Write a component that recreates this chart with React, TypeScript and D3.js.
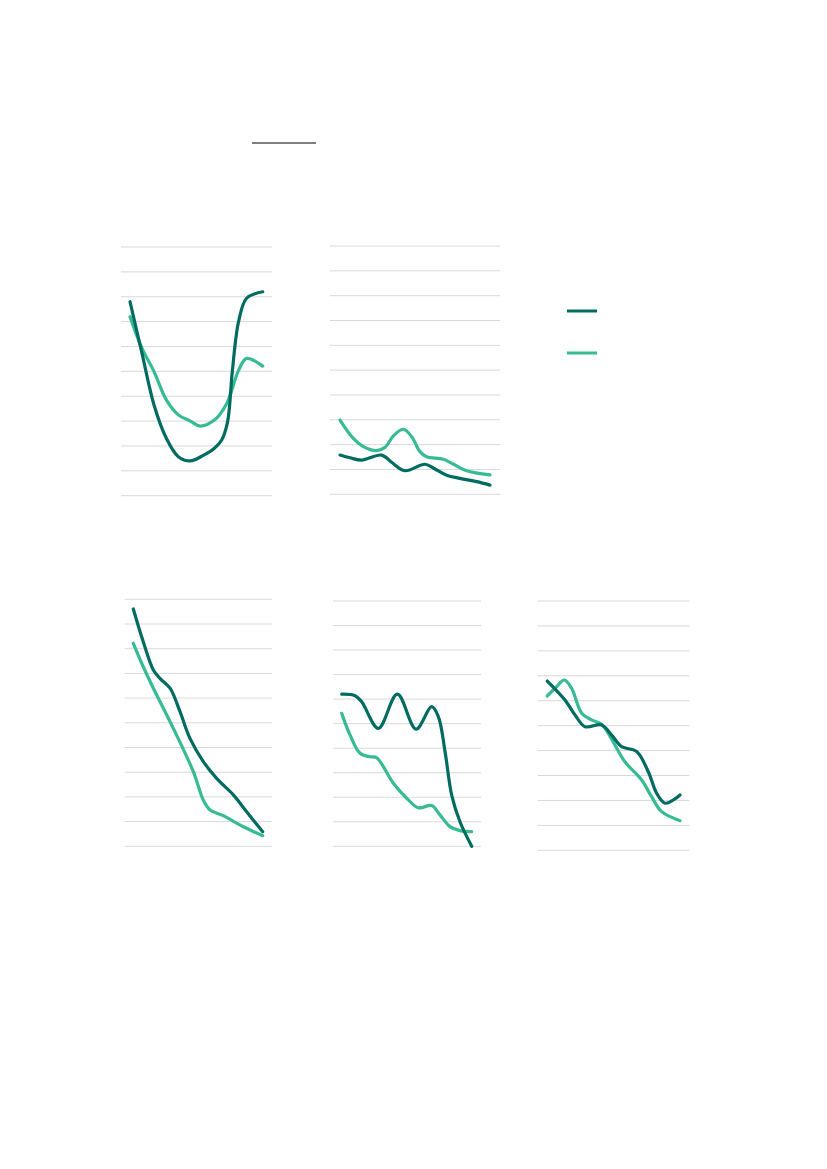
import React from "react";
import * as d3 from "d3";

// Each panel: x positions 0..10 along the period, values on a 0..10 scale (10 gridline steps)
const p1DarkX = [0, 0.9, 1.81, 2.74, 3.64, 4.55, 5.45, 6.36, 6.91, 7.36, 7.71, 8.19, 8.79, 10];
const p1DarkY = [7.8, 5.73, 3.65, 2.31, 1.57, 1.4, 1.6, 1.91, 2.24, 2.99, 5.0, 7.02, 7.94, 8.2];
const p1LightX = [0, 0.9, 1.81, 2.74, 3.64, 4.55, 5.28, 6.36, 7.29, 8.19, 8.79, 10];
const p1LightY = [7.2, 5.93, 4.99, 3.85, 3.25, 3.0, 2.8, 3.04, 3.71, 5.05, 5.52, 5.21];

const p2DarkX = [0, 0.67, 1.44, 2.78, 3.44, 4.33, 5.67, 6.33, 7.11, 8.0, 9.11, 10];
const p2DarkY = [1.58, 1.47, 1.38, 1.58, 1.29, 0.95, 1.21, 1.02, 0.77, 0.64, 0.51, 0.37];
const p2LightX = [0, 0.89, 1.56, 2.44, 3.0, 3.56, 4.22, 4.78, 5.33, 5.78, 6.89, 7.56, 8.44, 10];
const p2LightY = [2.99, 2.25, 1.92, 1.76, 1.89, 2.35, 2.62, 2.32, 1.72, 1.51, 1.41, 1.21, 0.95, 0.78];

const p3DarkX = [0, 0.77, 1.55, 2.06, 2.84, 3.61, 4.38, 5.41, 6.44, 7.73, 8.76, 10];
const p3DarkY = [9.61, 8.28, 7.14, 6.8, 6.4, 5.45, 4.37, 3.43, 2.75, 2.08, 1.4, 0.59];
const p3LightX = [0, 0.77, 1.55, 3.09, 4.64, 5.41, 5.93, 6.96, 8.51, 10];
const p3LightY = [8.22, 7.27, 6.4, 4.78, 3.02, 1.87, 1.47, 1.24, 0.79, 0.43];

const p4DarkX = [0, 1.03, 1.54, 2.82, 4.28, 5.72, 6.92, 7.44, 7.95, 8.46, 9.1, 10];
const p4DarkY = [6.2, 6.14, 5.89, 4.81, 6.2, 4.78, 5.69, 5.28, 3.86, 2.09, 1.0, 0.0];
const p4LightX = [0, 0.64, 1.41, 2.18, 2.69, 3.97, 5.0, 5.9, 6.92, 7.56, 8.33, 9.1, 10];
const p4LightY = [5.42, 4.54, 3.79, 3.65, 3.61, 2.57, 1.96, 1.57, 1.66, 1.28, 0.8, 0.64, 0.6];

const p5DarkX = [0, 1.33, 2.09, 2.84, 4.1, 4.85, 5.6, 6.73, 7.61, 8.24, 8.87, 9.5, 10];
const p5DarkY = [6.79, 6.03, 5.43, 4.96, 5.03, 4.62, 4.16, 3.96, 3.15, 2.29, 1.89, 2.02, 2.22];
const p5LightX = [0, 0.7, 1.28, 1.83, 2.59, 3.34, 4.1, 5.1, 5.85, 7.11, 7.86, 8.62, 10];
const p5LightY = [6.19, 6.56, 6.83, 6.5, 5.5, 5.23, 5.05, 4.22, 3.55, 2.82, 2.15, 1.55, 1.19];

const gridTicks = [0, 1, 2, 3, 4, 5, 6, 7, 8, 9, 10];

const DARK = "#006b60";
const LIGHT = "#36bb94";

type Panel = {
  gx0: number; gx1: number; gy0: number; gy1: number; dx0: number; dx1: number;
  darkX: number[]; darkY: number[]; lightX: number[]; lightY: number[];
};

const panels: Panel[] = [
  { gx0: 121, gx1: 272, gy0: 247, gy1: 495.7, dx0: 130, dx1: 262.7, darkX: p1DarkX, darkY: p1DarkY, lightX: p1LightX, lightY: p1LightY },
  { gx0: 330, gx1: 500.3, gy0: 246, gy1: 494.3, dx0: 340, dx1: 490, darkX: p2DarkX, darkY: p2DarkY, lightX: p2LightX, lightY: p2LightY },
  { gx0: 124.7, gx1: 272, gy0: 599.3, gy1: 846.3, dx0: 133.3, dx1: 262.7, darkX: p3DarkX, darkY: p3DarkY, lightX: p3LightX, lightY: p3LightY },
  { gx0: 333, gx1: 481, gy0: 601, gy1: 846.3, dx0: 341.7, dx1: 471.7, darkX: p4DarkX, darkY: p4DarkY, lightX: p4LightX, lightY: p4LightY },
  { gx0: 537.7, gx1: 689.3, gy0: 601, gy1: 850.3, dx0: 547.3, dx1: 680, darkX: p5DarkX, darkY: p5DarkY, lightX: p5LightX, lightY: p5LightY },
];

function PanelChart({ p }: { p: Panel }) {
  const x = d3.scaleLinear().domain([0, 10]).range([p.dx0, p.dx1]);
  const y = d3.scaleLinear().domain([0, 10]).range([p.gy1, p.gy0]);
  const line = d3
    .line<[number, number]>()
    .x((d) => x(d[0]))
    .y((d) => y(d[1]))
    .curve(d3.curveCatmullRom.alpha(0.5));
  const dark = line(p.darkX.map((v, i) => [v, p.darkY[i]] as [number, number])) || "";
  const light = line(p.lightX.map((v, i) => [v, p.lightY[i]] as [number, number])) || "";
  return (
    <g>
      {gridTicks.map((t) => (
        <line key={t} x1={p.gx0} x2={p.gx1} y1={y(t)} y2={y(t)} stroke="#d9d9d9" strokeWidth={1} />
      ))}
      <path d={light} fill="none" stroke={LIGHT} strokeWidth={3.2} strokeLinecap="round" strokeLinejoin="round" />
      <path d={dark} fill="none" stroke={DARK} strokeWidth={3.2} strokeLinecap="round" strokeLinejoin="round" />
    </g>
  );
}

export default function App() {
  return (
    <svg
      width={827}
      height={1169}
      style={{ position: "absolute", left: 0, top: 0, background: "#fff" }}
    >
      <line x1={252} x2={316} y1={143} y2={143} stroke="#555" strokeWidth={1.5} />
      {panels.map((p, i) => (
        <PanelChart key={i} p={p} />
      ))}
      <line x1={567} x2={597} y1={311} y2={311} stroke={DARK} strokeWidth={3} />
      <line x1={567} x2={597} y1={353} y2={353} stroke={LIGHT} strokeWidth={3} />
    </svg>
  );
}
